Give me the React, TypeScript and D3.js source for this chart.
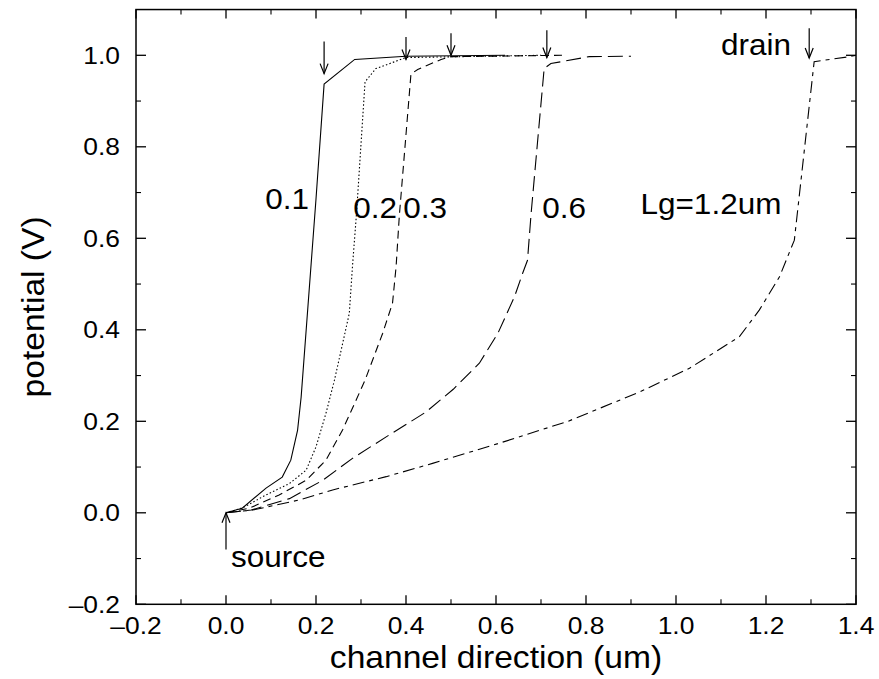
import React from "react";
import * as d3 from "d3";

// ---- data ----
const lg01X = [0, 0.036, 0.089, 0.125, 0.144, 0.159, 0.167, 0.2, 0.218, 0.286, 0.4, 0.62];
const lg01Y = [0, 0.01, 0.054, 0.078, 0.115, 0.18, 0.253, 0.686, 0.937, 0.991, 0.998, 1.0];

const lg02X = [0, 0.037, 0.089, 0.141, 0.178, 0.2, 0.222, 0.241, 0.256, 0.274, 0.281, 0.29, 0.309, 0.333, 0.4, 0.7];
const lg02Y = [0, 0.011, 0.039, 0.064, 0.093, 0.144, 0.217, 0.29, 0.356, 0.436, 0.538, 0.654, 0.942, 0.971, 0.995, 1.0];

const lg03X = [0, 0.052, 0.118, 0.178, 0.222, 0.259, 0.289, 0.309, 0.348, 0.37, 0.378, 0.385, 0.411, 0.426, 0.478, 0.5, 0.75];
const lg03Y = [0, 0.01, 0.039, 0.071, 0.115, 0.181, 0.246, 0.29, 0.392, 0.458, 0.538, 0.647, 0.959, 0.969, 0.991, 0.997, 1.0];

const lg06X = [0, 0.056, 0.141, 0.215, 0.281, 0.356, 0.444, 0.505, 0.563, 0.604, 0.641, 0.659, 0.67, 0.678, 0.707, 0.722, 0.807, 0.9];
const lg06Y = [0, 0.006, 0.031, 0.071, 0.119, 0.166, 0.22, 0.27, 0.327, 0.392, 0.472, 0.523, 0.552, 0.654, 0.971, 0.982, 0.997, 0.998];

const lg12X = [0, 0.059, 0.163, 0.237, 0.356, 0.459, 0.607, 0.76, 0.919, 1.03, 1.141, 1.185, 1.23, 1.263, 1.307, 1.385, 1.4];
const lg12Y = [0, 0.006, 0.028, 0.05, 0.079, 0.108, 0.152, 0.2, 0.264, 0.316, 0.385, 0.443, 0.516, 0.596, 0.986, 0.997, 1.0];

const seriesNames = ["0.1", "0.2", "0.3", "0.6", "Lg=1.2um"];
const seriesDash = ["", "1.5,2.2", "8,5", "15,6", "12,5,4,5"];

const xTickValues = [-0.2, 0, 0.2, 0.4, 0.6, 0.8, 1.0, 1.2, 1.4];
const xMinorValues = [-0.1, 0.1, 0.3, 0.5, 0.7, 0.9, 1.1, 1.3];
const yTickValues = [-0.2, 0, 0.2, 0.4, 0.6, 0.8, 1.0];
const yMinorValues = [-0.1, 0.1, 0.3, 0.5, 0.7, 0.9];

// annotation positions in data coordinates
const labelX = [0.087, 0.283, 0.394, 0.703, 0.921];
const labelY = [0.664, 0.645, 0.645, 0.645, 0.653];
const drainArrowX = [0.218, 0.4, 0.5, 0.713, 1.296];
const drainArrowTip = [0.96, 0.991, 1.0, 0.995, 0.994];
const drainArrowTail = [1.03, 1.04, 1.048, 1.055, 1.059];

const FONT = "'Liberation Sans', Arial, Helvetica, sans-serif";

export default function App() {
  const W = 879, H = 679;
  const x = d3.scaleLinear().domain([-0.2, 1.4]).range([136, 856]);
  const y = d3.scaleLinear().domain([-0.2, 1.1]).range([604.3, 9.55]);
  const [x0, x1] = x.range();
  const [y0, y1] = y.range();

  const seriesX = [lg01X, lg02X, lg03X, lg06X, lg12X];
  const seriesY = [lg01Y, lg02Y, lg03Y, lg06Y, lg12Y];
  const line = d3
    .line<[number, number]>()
    .x((d) => x(d[0]))
    .y((d) => y(d[1]));

  const fmt = (v: number) => d3.format(".1f")(v).replace("\u2212", "\u2013");

  const arrowDown = (xp: number, tipY: number, tailY: number, key: string) => (
    <g key={key} stroke="#000" strokeWidth={1.2} fill="none">
      <line x1={xp} y1={tailY} x2={xp} y2={tipY} />
      <polyline points={`${xp - 4},${tipY - 10} ${xp},${tipY} ${xp + 4},${tipY - 10}`} />
    </g>
  );

  const txt = (
    s: string,
    px: number,
    py: number,
    size: number,
    anchor: string,
    key: string,
    sx = 1.05
  ) => (
    <text
      key={key}
      transform={`translate(${px},${py}) scale(${sx},1)`}
      fontSize={size}
      fontFamily={FONT}
      textAnchor={anchor as any}
      fill="#000"
    >
      {s}
    </text>
  );

  return (
    <svg
      width={W}
      height={H}
      style={{ position: "absolute", left: 0, top: 0, background: "#fff" }}
    >
      <rect x={0} y={0} width={W} height={H} fill="#fff" />
      {/* curves */}
      {seriesX.map((xs, i) => (
        <path
          key={"s" + i}
          d={line(xs.map((v, j) => [v, seriesY[i][j]] as [number, number])) || ""}
          fill="none"
          stroke="#000"
          strokeWidth={1.1}
          strokeDasharray={seriesDash[i] || undefined}
        />
      ))}

      {/* frame */}
      <rect x={x0} y={y1} width={x1 - x0} height={y0 - y1} fill="none" stroke="#000" strokeWidth={1.5} />

      {/* x ticks */}
      {xTickValues.map((v) => (
        <g key={"xt" + v} stroke="#000" strokeWidth={1.3}>
          <line x1={x(v)} x2={x(v)} y1={y0} y2={y0 - 9} />
          <line x1={x(v)} x2={x(v)} y1={y1} y2={y1 + 9} />
        </g>
      ))}
      {xMinorValues.map((v) => (
        <g key={"xm" + v} stroke="#000" strokeWidth={1.1}>
          <line x1={x(v)} x2={x(v)} y1={y0} y2={y0 - 5} />
          <line x1={x(v)} x2={x(v)} y1={y1} y2={y1 + 5} />
        </g>
      ))}
      {/* y ticks */}
      {yTickValues.map((v) => (
        <g key={"yt" + v} stroke="#000" strokeWidth={1.3}>
          <line x1={x0} x2={x0 + 10} y1={y(v)} y2={y(v)} />
          <line x1={x1} x2={x1 - 10} y1={y(v)} y2={y(v)} />
        </g>
      ))}
      {yMinorValues.map((v) => (
        <g key={"ym" + v} stroke="#000" strokeWidth={1.1}>
          <line x1={x0} x2={x0 + 5} y1={y(v)} y2={y(v)} />
          <line x1={x1} x2={x1 - 5} y1={y(v)} y2={y(v)} />
        </g>
      ))}

      {/* tick labels */}
      {xTickValues.map((v) => txt(fmt(v), x(v), 634, 24, "middle", "xl" + v, 1.1))}
      {yTickValues.map((v) => txt(fmt(v), 120, y(v) + 8.6, 24, "end", "yl" + v, 1.1))}

      {/* axis titles */}
      {txt("channel direction (um)", (x0 + x1) / 2, 668, 32, "middle", "xtitle")}
      <text
        transform={`translate(44,${(y0 + y1) / 2}) rotate(-90) scale(1.05,1)`}
        fontSize={32}
        fontFamily={FONT}
        textAnchor="middle"
        fill="#000"
      >
        potential (V)
      </text>

      {/* curve labels */}
      {seriesNames.map((s, i) => txt(s, x(labelX[i]), y(labelY[i]), 30, "start", "lab" + i))}

      {/* drain arrows */}
      {drainArrowX.map((v, i) => arrowDown(x(v), y(drainArrowTip[i]), y(drainArrowTail[i]), "da" + i))}
      {txt("drain", x(1.1), y(1.0), 30, "start", "drain")}

      {/* source arrow */}
      <g stroke="#000" strokeWidth={1.2} fill="none">
        <line x1={x(0)} y1={y(-0.08)} x2={x(0)} y2={y(0)} />
        <polyline points={`${x(0) - 4},${y(0) + 10} ${x(0)},${y(0)} ${x(0) + 4},${y(0) + 10}`} />
      </g>
      {txt("source", x(0.011), y(-0.119), 30, "start", "source")}
    </svg>
  );
}
